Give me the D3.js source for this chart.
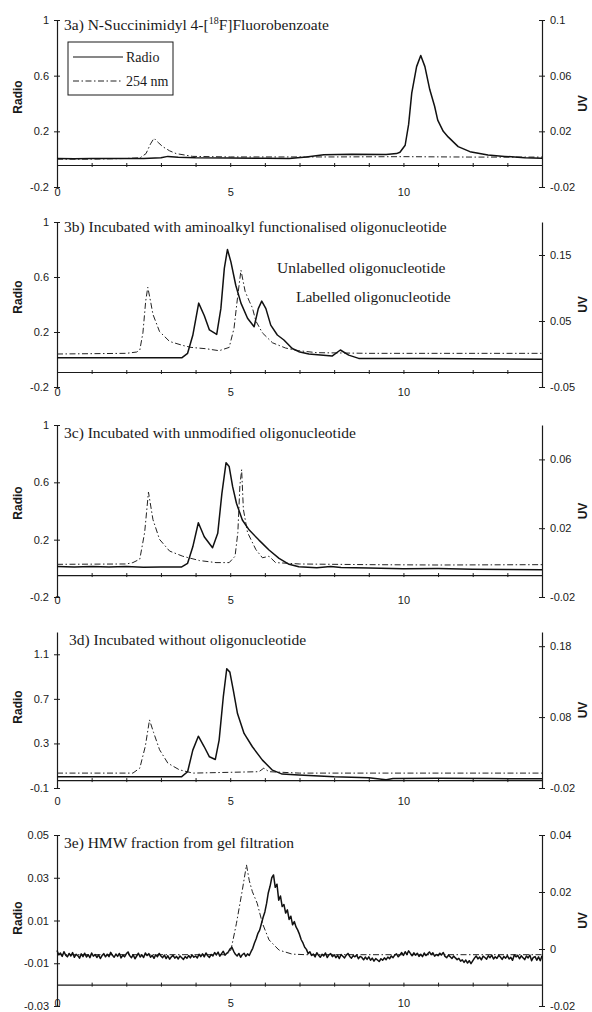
<!DOCTYPE html>
<html>
<head>
<meta charset="utf-8">
<script src="https://cdnjs.cloudflare.com/ajax/libs/d3/7.8.5/d3.min.js"></script>
<style>
  body { margin: 0; background: #fff; }
  svg { display: block; }
  text { fill: #1a1a1a; }
  .tick text { font: 11px "Liberation Sans", Arial, sans-serif; fill: #1a1a1a; }
  .ttl { font: 15.5px "Liberation Serif", "Times New Roman", serif; }
  .leg { font: 14px "Liberation Serif", "Times New Roman", serif; }
  .axt { font: bold 12px "Liberation Sans", Arial, sans-serif; }
  .domain, .tick line { stroke: #1a1a1a; }
</style>
</head>
<body>
<svg id="chart" width="592" height="1012"></svg>
<script>
// time (min) vs detector response
var radioA = [[0,0.004],[0.5,0.003],[1,0.005],[1.5,0.004],[2,0.005],[2.5,0.004],[3,0.01],[3.2,0.02],[3.5,0.014],[4,0.01],[5,0.008],[6,0.006],[6.7,0.004],[7.2,0.015],[7.7,0.032],[8.5,0.036],[9.5,0.034],[9.8,0.04],[9.9,0.05],[10.05,0.1],[10.15,0.25],[10.24,0.475],[10.38,0.665],[10.5,0.745],[10.62,0.665],[10.76,0.5],[10.9,0.38],[10.99,0.28],[11.15,0.2],[11.29,0.16],[11.58,0.09],[11.92,0.054],[12.44,0.03],[12.92,0.02],[13.5,0.01],[14,0.006]];
var uvA = [[0,0],[1,0],[2,0.0005],[2.4,0.001],[2.57,0.004],[2.7,0.011],[2.8,0.015],[2.92,0.012],[3.05,0.009],[3.25,0.006],[3.44,0.004],[3.92,0.002],[5,0.0016],[8,0.0016],[10,0.0018],[12,0.0015],[14,0.0015]];

var radioB = [[0,0.012],[2,0.012],[3.6,0.012],[3.77,0.045],[3.92,0.176],[4.09,0.41],[4.25,0.32],[4.4,0.215],[4.61,0.183],[4.73,0.37],[4.83,0.663],[4.92,0.8],[5.02,0.71],[5.16,0.54],[5.31,0.41],[5.5,0.3],[5.69,0.238],[5.81,0.37],[5.91,0.425],[6.03,0.37],[6.17,0.25],[6.36,0.178],[6.55,0.142],[6.79,0.08],[6.98,0.057],[7.27,0.04],[7.94,0.025],[8.18,0.069],[8.42,0.032],[8.71,0.008],[10.53,0.008],[14,0.001]];
var uvB = [[0,0],[2,0.001],[2.3,0.003],[2.39,0.006],[2.48,0.032],[2.56,0.08],[2.62,0.101],[2.7,0.08],[2.77,0.06],[2.96,0.034],[3.25,0.019],[3.63,0.013],[3.87,0.01],[4.3,0.008],[4.68,0.005],[4.97,0.01],[5.11,0.039],[5.21,0.085],[5.31,0.127],[5.43,0.095],[5.55,0.08],[5.64,0.07],[5.74,0.05],[5.93,0.032],[6.22,0.017],[6.6,0.009],[6.98,0.005],[7.5,0.002],[9,0.001],[14,0.001]];

var radioC = [[0,0.012],[0.5,0.01],[1,0.013],[1.5,0.01],[2,0.012],[2.5,0.008],[3,0.01],[3.6,0.01],[3.77,0.035],[3.92,0.15],[4.08,0.318],[4.25,0.22],[4.49,0.144],[4.64,0.244],[4.76,0.523],[4.88,0.737],[4.97,0.71],[5.07,0.57],[5.18,0.454],[5.35,0.337],[5.55,0.267],[5.83,0.197],[6.12,0.128],[6.41,0.07],[6.7,0.028],[6.98,0.011],[7.5,0.004],[7.9,0.012],[8.2,0.006],[9,0.002],[10,-0.003],[11,-0.002],[12,-0.006],[13,-0.008],[14,-0.01]];
var uvC = [[0,-0.001],[2,-0.0008],[2.19,0],[2.39,0.002],[2.53,0.0175],[2.64,0.041],[2.77,0.025],[2.96,0.0135],[3.25,0.0067],[3.63,0.0037],[4.11,0.0012],[4.59,0],[4.97,0],[5.14,0.0037],[5.22,0.0175],[5.28,0.045],[5.33,0.054],[5.38,0.031],[5.5,0.0175],[5.74,0.0076],[5.93,0.0028],[6.12,0.0037],[6.31,0],[7,-0.0008],[9,-0.0012],[11,-0.0014],[14,-0.0012]];

var radioD = [[0,0.002],[1,0],[2,0.001],[3,0],[3.6,0.002],[3.77,0.046],[3.92,0.24],[4.08,0.365],[4.25,0.27],[4.4,0.18],[4.57,0.156],[4.68,0.33],[4.8,0.717],[4.9,0.97],[4.99,0.94],[5.09,0.776],[5.21,0.568],[5.4,0.39],[5.64,0.27],[5.93,0.15],[6.22,0.06],[6.5,0.025],[6.98,0.016],[8,0],[9,-0.008],[9.5,-0.025],[9.7,-0.015],[11,-0.012],[12.5,-0.015],[14,-0.018]];
var uvD = [[0,0.001],[2,0.001],[2.19,0.001],[2.39,0.008],[2.55,0.039],[2.67,0.076],[2.79,0.058],[2.96,0.034],[3.2,0.015],[3.53,0.0057],[3.92,0.001],[5.83,0.003],[5.97,0.008],[6.12,0.003],[7,0.001],[14,0.001]];

var radioE = [
  [0,-0.004],[0.05,-0.006],[0.1,-0.0052],[0.15,-0.0068],[0.2,-0.0046],[0.25,-0.0062],[0.3,-0.007],[0.35,-0.0054],[0.4,-0.0066],[0.45,-0.005],
  [0.5,-0.0072],[0.55,-0.0058],[0.6,-0.0064],[0.65,-0.0076],[0.7,-0.0056],[0.75,-0.0069],[0.8,-0.0053],[0.85,-0.0071],[0.9,-0.006],[0.95,-0.0074],
  [1,-0.0052],[1.05,-0.0067],[1.1,-0.0059],[1.15,-0.0073],[1.2,-0.0061],[1.25,-0.0078],[1.3,-0.0064],[1.35,-0.0055],[1.4,-0.007],[1.45,-0.0058],
  [1.5,-0.0069],[1.55,-0.0049],[1.6,-0.0063],[1.65,-0.0072],[1.7,-0.0057],[1.75,-0.0068],[1.8,-0.0054],[1.85,-0.0075],[1.9,-0.0062],[1.95,-0.007],
  [2,-0.0056],[2.05,-0.0047],[2.1,-0.0065],[2.15,-0.0074],[2.2,-0.006],[2.25,-0.0079],[2.3,-0.0066],[2.35,-0.0053],[2.4,-0.0071],[2.45,-0.0061],
  [2.5,-0.0073],[2.55,-0.0052],[2.6,-0.0064],[2.65,-0.0055],[2.7,-0.0072],[2.75,-0.0063],[2.8,-0.0077],[2.85,-0.006],[2.9,-0.0069],[2.95,-0.0054],
  [3,-0.0066],[3.05,-0.0074],[3.1,-0.0062],[3.15,-0.0078],[3.2,-0.0065],[3.25,-0.0081],[3.3,-0.007],[3.35,-0.0063],[3.4,-0.0076],[3.45,-0.0068],
  [3.5,-0.008],[3.55,-0.0066],[3.6,-0.0074],[3.65,-0.0082],[3.7,-0.0069],[3.75,-0.0077],[3.8,-0.0064],[3.85,-0.0075],[3.9,-0.0061],[3.95,-0.0072],
  [4,-0.0066],[4.05,-0.0075],[4.1,-0.0058],[4.15,-0.0069],[4.2,-0.0056],[4.25,-0.007],[4.3,-0.0052],[4.35,-0.0065],[4.4,-0.0073],[4.45,-0.0059],
  [4.5,-0.0066],[4.55,-0.005],[4.6,-0.0061],[4.65,-0.0048],[4.7,-0.0067],[4.75,-0.0055],[4.8,-0.0044],[4.85,-0.0062],[4.9,-0.0053],[4.95,-0.0046],
  [5,-0.0032],[5.05,-0.0025],[5.1,-0.0044],[5.15,-0.0058],[5.2,-0.0066],[5.25,-0.0054],[5.3,-0.0072],[5.35,-0.006],[5.4,-0.0053],[5.45,-0.0068],
  [5.5,-0.0056],[5.55,-0.0064],[5.6,-0.0046],[5.65,-0.003],[5.7,-0.0005],[5.75,0.0015],[5.8,0.004],[5.85,0.0055],[5.9,0.0085],[5.95,0.0115],
  [6,0.014],[6.05,0.018],[6.1,0.023],[6.15,0.026],[6.2,0.03],[6.25,0.0313],[6.3,0.0255],[6.35,0.027],[6.4,0.0195],[6.45,0.0215],
  [6.5,0.0165],[6.55,0.0175],[6.6,0.0135],[6.65,0.015],[6.7,0.0105],[6.75,0.012],[6.8,0.008],[6.85,0.0095],[6.9,0.007],[6.95,0.0055],
  [7,0.0035],[7.05,0.001],[7.1,-0.0005],[7.15,-0.0025],[7.2,-0.0035],[7.25,-0.0055],[7.3,-0.0046],[7.35,-0.0064],[7.4,-0.0057],[7.45,-0.007],
  [7.5,-0.0051],[7.55,-0.0063],[7.6,-0.0072],[7.65,-0.0058],[7.7,-0.0066],[7.75,-0.0052],[7.8,-0.0073],[7.85,-0.0061],[7.9,-0.0055],[7.95,-0.0069],
  [8,-0.006],[8.05,-0.0074],[8.1,-0.0063],[8.15,-0.0078],[8.2,-0.0059],[8.25,-0.0067],[8.3,-0.0075],[8.35,-0.0062],[8.4,-0.0054],[8.45,-0.0068],
  [8.5,-0.0076],[8.55,-0.0064],[8.6,-0.007],[8.65,-0.0061],[8.7,-0.0079],[8.75,-0.0068],[8.8,-0.0073],[8.85,-0.0084],[8.9,-0.0071],[8.95,-0.0082],
  [9,-0.007],[9.05,-0.0086],[9.1,-0.0076],[9.15,-0.009],[9.2,-0.0078],[9.25,-0.0085],[9.3,-0.0092],[9.35,-0.0079],[9.4,-0.0086],[9.45,-0.0075],
  [9.5,-0.0083],[9.55,-0.0071],[9.6,-0.0079],[9.65,-0.0066],[9.7,-0.0074],[9.75,-0.0062],[9.8,-0.0056],[9.85,-0.007],[9.9,-0.0061],[9.95,-0.005],
  [10,-0.0063],[10.05,-0.0046],[10.1,-0.0059],[10.15,-0.0042],[10.2,-0.0054],[10.25,-0.0065],[10.3,-0.0051],[10.35,-0.0062],[10.4,-0.0053],[10.45,-0.0068],
  [10.5,-0.0058],[10.55,-0.0069],[10.6,-0.0052],[10.65,-0.0064],[10.7,-0.0056],[10.75,-0.0047],[10.8,-0.006],[10.85,-0.0051],[10.9,-0.0067],[10.95,-0.0059],
  [11,-0.0065],[11.05,-0.0053],[11.1,-0.0061],[11.15,-0.005],[11.2,-0.0068],[11.25,-0.0074],[11.3,-0.0062],[11.35,-0.007],[11.4,-0.0078],[11.45,-0.0066],
  [11.5,-0.0075],[11.55,-0.0083],[11.6,-0.0077],[11.65,-0.009],[11.7,-0.0084],[11.75,-0.0096],[11.8,-0.0085],[11.85,-0.0099],[11.9,-0.0088],[11.95,-0.0102],
  [12,-0.0089],[12.05,-0.0076],[12.1,-0.0066],[12.15,-0.008],[12.2,-0.0071],[12.25,-0.0084],[12.3,-0.0067],[12.35,-0.0073],[12.4,-0.0081],[12.45,-0.0065],
  [12.5,-0.0074],[12.55,-0.0062],[12.6,-0.008],[12.65,-0.007],[12.7,-0.0077],[12.75,-0.0063],[12.8,-0.0071],[12.85,-0.0082],[12.9,-0.0068],[12.95,-0.0076],
  [13,-0.0064],[13.05,-0.008],[13.1,-0.0072],[13.15,-0.0086],[13.2,-0.0061],[13.25,-0.007],[13.3,-0.0063],[13.35,-0.0079],[13.4,-0.0065],[13.45,-0.0074],
  [13.5,-0.0083],[13.55,-0.0066],[13.6,-0.0075],[13.65,-0.0062],[13.7,-0.0088],[13.75,-0.0073],[13.8,-0.0069],[13.85,-0.0086],[13.9,-0.007],[13.95,-0.0088],
  [14,-0.0065]];
var uvE = [[0,-0.002],[4.9,-0.002],[5.02,-0.0004],[5.18,0.009],[5.35,0.0207],[5.47,0.0295],[5.55,0.024],[5.64,0.0201],[5.78,0.016],[5.93,0.009],[6.12,0.0032],[6.41,-0.0004],[6.79,-0.0018],[7.18,-0.002],[14,-0.002]];

// axis ticks
var timeTicks = [0, 5, 10];
var timeMinor = [0,1,2,3,4,5,6,7,8,9,10,11,12,13,14];
var radioTicksABC = [-0.2, 0.2, 0.6, 1];
var radioTicksD = [-0.1, 0.3, 0.7, 1.1];
var radioTicksE = [-0.03, -0.01, 0.01, 0.03, 0.05];
var uvTicksA = [-0.02, 0.02, 0.06, 0.1];
var uvTicksB = [-0.05, 0.05, 0.15];
var uvTicksC = [-0.02, 0.02, 0.06];
var uvTicksD = [-0.02, 0.08, 0.18];
var uvTicksE = [-0.02, 0, 0.02, 0.04];

var panels = [
  {tag: "3a) N-Succinimidyl 4-[", sup: "18", rest: "F]Fluorobenzoate", radio: radioA, uv: uvA,
   rDom: [-0.2, 1], rTicks: radioTicksABC, uDom: [-0.02, 0.1], uTicks: uvTicksA,
   top: 20, bottom: 187, axisAt: -0.042, labDy: 5, titleX: 64, titleY: 30, radioY: 97},
  {tag: "3b) Incubated with aminoalkyl functionalised oligonucleotide", radio: radioB, uv: uvB,
   rDom: [-0.2, 1], rTicks: radioTicksABC, uDom: [-0.05, 0.2], uTicks: uvTicksB,
   top: 222, bottom: 387, axisAt: -0.091, labDy: 5, titleX: 64, titleY: 232, radioY: 297},
  {tag: "3c) Incubated with unmodified oligonucleotide", radio: radioC, uv: uvC,
   rDom: [-0.2, 1], rTicks: radioTicksABC, uDom: [-0.02, 0.08], uTicks: uvTicksC,
   top: 425, bottom: 597, axisAt: -0.047, labDy: 3, titleX: 64, titleY: 438, radioY: 503},
  {tag: "3d) Incubated without oligonucleotide", radio: radioD, uv: uvD,
   rDom: [-0.1, 1.3], rTicks: radioTicksD, uDom: [-0.02, 0.2], uTicks: uvTicksD,
   top: 632, bottom: 788, axisAt: -0.029, labDy: 13, titleX: 69, titleY: 645, radioY: 707},
  {tag: "3e) HMW fraction from gel filtration", radio: radioE, uv: uvE,
   rDom: [-0.03, 0.05], rTicks: radioTicksE, uDom: [-0.02, 0.04], uTicks: uvTicksE,
   top: 835, bottom: 1006, axisAt: -0.02, labDy: -3, titleX: 64, titleY: 848, radioY: 918}
];

var svg = d3.select("#chart");
var x = d3.scaleLinear().domain([0, 14]).range([57, 542]);

panels.forEach(function (p) {
  var yR = d3.scaleLinear().domain(p.rDom).range([p.bottom, p.top]);
  var yU = d3.scaleLinear().domain(p.uDom).range([p.bottom, p.top]);
  var g = svg.append("g");

  // left axis
  var la = g.append("g").attr("transform", "translate(57,0)")
    .call(d3.axisLeft(yR).tickValues(p.rTicks).tickSizeOuter(0).tickSizeInner(3).tickPadding(5).tickFormat(function (d) { return String(d); }));
  la.selectAll(".tick line").attr("x1", 3).attr("x2", -3);

  // right axis
  var ra = g.append("g").attr("transform", "translate(542,0)")
    .call(d3.axisRight(yU).tickValues(p.uTicks).tickSizeOuter(0).tickSizeInner(3).tickPadding(5).tickFormat(function (d) { return String(d); }));
  ra.selectAll(".tick line").attr("x1", -3).attr("x2", 3);

  // x axis line with minor ticks
  var xa = g.append("g").attr("transform", "translate(0," + yR(p.axisAt) + ")")
    .call(d3.axisBottom(x).tickValues(timeMinor).tickSizeOuter(0).tickSizeInner(2).tickFormat(""));
  xa.selectAll(".tick line").attr("y1", -2).attr("y2", 2);

  // x labels sit at the bottom of the panel
  var xl = g.append("g").attr("transform", "translate(0," + (p.bottom + p.labDy) + ")")
    .call(d3.axisBottom(x).tickValues(timeTicks).tickSize(0).tickPadding(0));
  xl.select(".domain").remove();
  xl.selectAll(".tick text").attr("dy", "0.35em");

  g.selectAll(".domain").attr("stroke-width", 1.2);

  var line = function (ys) {
    return d3.line().x(function (d) { return x(d[0]); }).y(function (d) { return ys(d[1]); });
  };

  g.append("path").datum(p.uv).attr("d", line(yU))
    .attr("fill", "none").attr("stroke", "#222").attr("stroke-width", 1)
    .attr("stroke-dasharray", "6,2.5,1.5,2.5");
  g.append("path").datum(p.radio).attr("d", line(yR))
    .attr("fill", "none").attr("stroke", "#111").attr("stroke-width", 1.5)
    .attr("stroke-linejoin", "round");

  // titles
  var t = g.append("text").attr("class", "ttl").attr("x", p.titleX).attr("y", p.titleY).text(p.tag);
  if (p.sup) {
    t.append("tspan").attr("font-size", "10px").attr("dy", -6).text(p.sup);
    t.append("tspan").attr("dy", 6).text(p.rest);
  }

  g.append("text").attr("class", "axt")
    .attr("transform", "translate(18," + p.radioY + ") rotate(-90)")
    .attr("text-anchor", "middle").attr("dy", "0.35em").text("Radio");
  g.append("text").attr("class", "axt")
    .attr("transform", "translate(583," + ((p.top + p.bottom) / 2) + ") rotate(-90)")
    .attr("text-anchor", "middle").attr("dy", "0.35em").text("UV");
});

// legend, panel a
var lg = svg.append("g");
lg.append("rect").attr("x", 68).attr("y", 42).attr("width", 105).attr("height", 53)
  .attr("fill", "#fff").attr("stroke", "#1a1a1a").attr("stroke-width", 1);
lg.append("line").attr("x1", 73).attr("x2", 123).attr("y1", 57).attr("y2", 57)
  .attr("stroke", "#111").attr("stroke-width", 1.2);
lg.append("line").attr("x1", 73).attr("x2", 123).attr("y1", 81).attr("y2", 81)
  .attr("stroke", "#222").attr("stroke-width", 1).attr("stroke-dasharray", "6,2.5,1.5,2.5");
lg.append("text").attr("class", "leg").attr("x", 126).attr("y", 62).text("Radio");
lg.append("text").attr("class", "leg").attr("x", 126).attr("y", 86).text("254 nm");

// peak labels, panel b
svg.append("text").attr("class", "ttl").attr("x", 277).attr("y", 273).text("Unlabelled oligonucleotide");
svg.append("text").attr("class", "ttl").attr("x", 296).attr("y", 302).text("Labelled oligonucleotide");
</script>
</body>
</html>
